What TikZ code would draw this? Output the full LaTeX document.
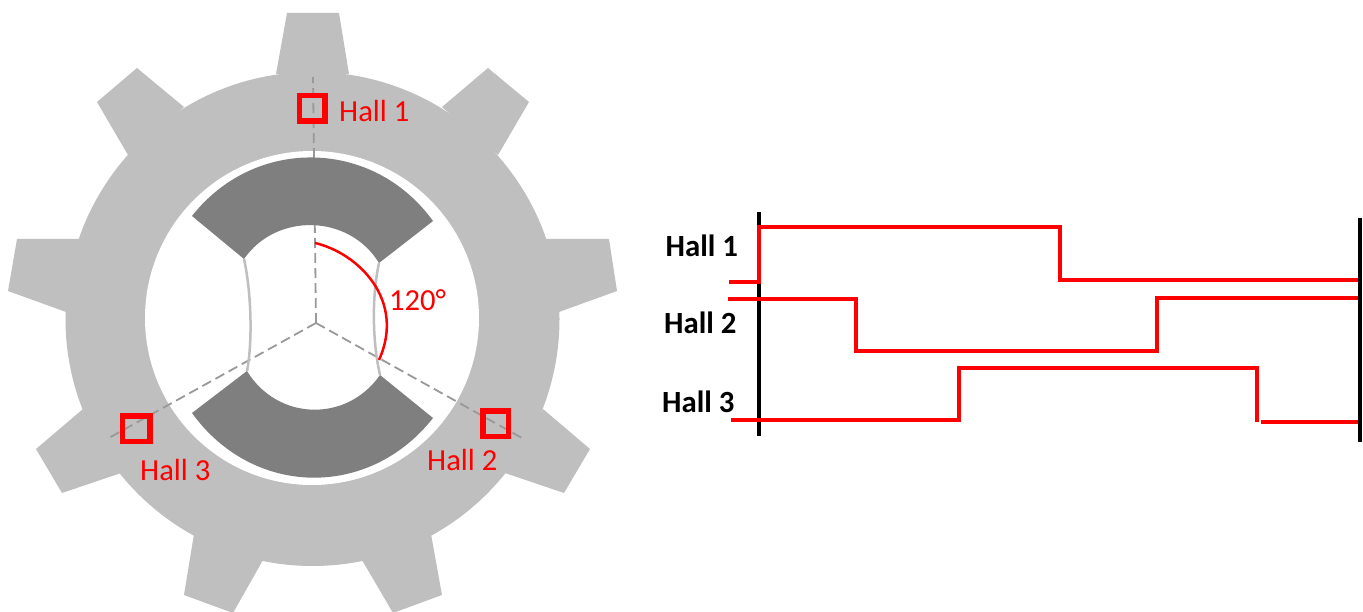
\documentclass[tikz,border=0pt]{standalone}
\usepackage{fontspec}
\setmainfont{Carlito}
\usepackage{tikz}
\usetikzlibrary{positioning}
\usetikzlibrary{calc}
\definecolor{gearcol}{HTML}{BFBFBF}
\definecolor{magcol}{HTML}{7F7F7F}
\definecolor{axiscol}{HTML}{999999}
\tikzset{%
  gear/.style = {fill=gearcol},
  mag/.style = {fill=magcol},
  axis/.style = {draw=axiscol,line width=1.8pt,dash pattern=on 10pt off 5pt},
  seam/.style = {draw=gearcol,line width=2.5pt},
  bar/.style = {draw=black,line width=4pt},
  wave/.style = {draw=red,line width=4pt,line join=miter},
  sensor/.style = {rectangle,draw=red,line width=5.5pt,inner sep=0pt,
        minimum width=25.5pt,minimum height=25.5pt},
  redlab/.style = {text=red,inner sep=0pt,anchor=base west,
        font=\fontsize{30.6}{36}\selectfont},
  blacklab/.style = {text=black,inner sep=0pt,anchor=base west,
        font=\fontsize{30.8}{36}\selectfont\bfseries}
}
\begin{document}
\begin{tikzpicture}[x=1pt,y=-1pt]
\useasboundingbox (0,0) rectangle (1363,612);

\fill[gear] (312.5,319) circle (247);
\fill[gear] (276,74) -- (287,13) -- (339,13) -- (349,74) -- cycle;
\fill[gear] (442,107) -- (488,68) -- (529,102) -- (498,155) -- cycle;
\fill[gear] (546,239) -- (609,239) -- (617,291) -- (559,312) -- cycle;
\fill[gear] (543,409) -- (590,449) -- (564,493) -- (505,473) -- cycle;
\fill[gear] (431,534) -- (442,595) -- (393,613) -- (362,560) -- cycle;
\fill[gear] (263,560) -- (233,613) -- (184,595) -- (194,534) -- cycle;
\fill[gear] (121,473) -- (62,493) -- (36,449) -- (83,409) -- cycle;
\fill[gear] (66,312) -- (8,291) -- (17,239) -- (80,239) -- cycle;
\fill[gear] (128,155) -- (97,102) -- (137,68) -- (184,107) -- cycle;
\fill[white] (312,318) circle (167);

\coordinate (hub) at (316,323);
\coordinate (axis1) at (313,77);
\coordinate (axis2) at (522,438);
\coordinate (axis3) at (107,439);
\draw[axis] (hub) -- (axis1);
\draw[axis] (hub) -- (axis2);
\draw[axis] (hub) -- (axis3);

\coordinate (tl) at (192,216);
\coordinate (tr) at (433,221);
\coordinate (til) at (244,259);
\coordinate (tir) at (379,263);
\coordinate (bl) at (192,413);
\coordinate (br) at (433,418);
\coordinate (bil) at (247,371);
\coordinate (bir) at (380,375);

\draw[seam] (til) .. controls (251,290) and (253,340) .. (bil);
\draw[seam] (tir) .. controls (372,295) and (372,340) .. (bir);

\fill[mag] (tl) to[bend left=53,looseness=1.08] (tr) -- (tir) to[bend right=57,looseness=1.08] (til) -- cycle;
\fill[mag] (bl) to[bend right=53,looseness=1.1] (br) -- (bir) to[bend left=57,looseness=1.12] (bil) -- cycle;

\coordinate (angstart) at (315,243);
\coordinate (angend) at (379,360);
\draw[draw=red,line width=2.5pt] (angstart) .. controls (358,253) and (406,300) .. (angend);
\node[redlab] (anglab) at (389,311) {120°};

\node[sensor] (box1) at (312,108.5) {};
\node[sensor] (box2) at (495.5,423.5) {};
\node[sensor,minimum width=27.5pt] (box3) at (136,428.5) {};
\node[redlab] (lab1) at (339,122) {Hall 1};
\node[redlab] (lab2) at (427,470) {Hall 2};
\node[redlab] (lab3) at (140,480) {Hall 3};

\coordinate (lefttop) at (759,212);
\coordinate (leftbot) at (759,436);
\coordinate (righttop) at (1360,218);
\coordinate (rightbot) at (1360,442);
\draw[bar] (lefttop) -- (leftbot);
\draw[bar] (righttop) -- (rightbot);

\draw[wave] (729,282) -- (759,282) -- (759,227) -- (1059.5,227) -- (1059.5,280.5) -- (1358,280.5);
\draw[wave] (728,299) -- (856,299) -- (856,351) -- (1157,351) -- (1157,298) -- (1358,298);
\draw[wave] (731,420) -- (959,420) -- (959,368) -- (1257,368) -- (1257,422) (1261,422) -- (1358,422);

\node[blacklab] (sig1) at (665.5,257) {Hall 1};
\node[blacklab] (sig2) at (664,334) {Hall 2};
\node[blacklab] (sig3) at (662,412) {Hall 3};
\end{tikzpicture}
\end{document}
